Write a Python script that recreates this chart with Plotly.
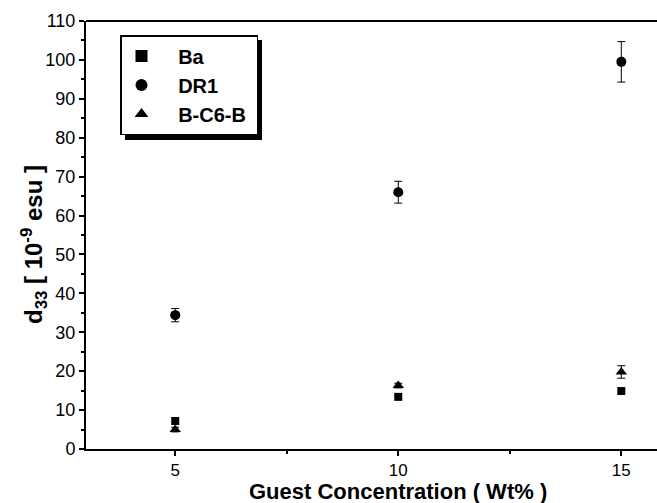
import plotly.graph_objects as go

conc = [5, 10, 15]
ba = [7.2, 13.4, 14.9]
ba_err = [0.6, 0.6, 0.6]
dr1 = [34.4, 66.0, 99.5]
dr1_err = [1.7, 2.8, 5.2]
bc6b = [5.0, 16.3, 19.8]
bc6b_err = [0.6, 0.6, 1.6]
names = ["Ba", "DR1", "B-C6-B"]

W, H = 657, 503
L, R, T, B = 86, 0, 21, 54
pw, ph = W - L - R, H - T - B

def px(x):
    return (x - L) / pw

def py(y):
    return (H - B - y) / ph

pad = "\u00a0\u00a0\u00a0"
fig = go.Figure()
fig.add_trace(go.Scatter(x=conc, y=ba, mode="markers", name=pad + names[0] + "\u00a0",
                         marker=dict(symbol="square", size=8, color="black"),
                         error_y=dict(type="data", array=ba_err, color="black", thickness=1, width=3)))
fig.add_trace(go.Scatter(x=conc, y=dr1, mode="markers", name=pad + names[1] + "\u00a0",
                         marker=dict(symbol="circle", size=10, color="black"),
                         error_y=dict(type="data", array=dr1_err, color="black", thickness=1, width=4)))
fig.add_trace(go.Scatter(x=conc, y=bc6b, mode="markers", name=pad + names[2] + "\u00a0",
                         marker=dict(symbol="triangle-up", size=10, color="black"),
                         error_y=dict(type="data", array=bc6b_err, color="black", thickness=1, width=4)))

font = "Liberation Sans, Arial, sans-serif"
fig.update_layout(
    width=W, height=H,
    margin=dict(l=L, r=R, t=T, b=B),
    paper_bgcolor="white", plot_bgcolor="white",
    font=dict(family=font, color="black", size=18),
    showlegend=True,
    legend=dict(x=px(120), y=py(35), xanchor="left", yanchor="top",
                bgcolor="white", bordercolor="black", borderwidth=1.5,
                font=dict(size=20, family=font, weight="bold"),
                itemsizing="constant", tracegroupgap=0),
    xaxis=dict(range=[3, 15.8], tickvals=[5, 10, 15], showgrid=False, zeroline=False,
               showline=True, linecolor="black", linewidth=2,
               ticks="outside", ticklen=5, tickwidth=1.5, tickcolor="black",
               minor=dict(tickvals=[7.5, 12.5], ticks="outside", ticklen=3, tickcolor="black"),
               tickfont=dict(size=17)),
    yaxis=dict(range=[0, 110], dtick=10, showgrid=False, zeroline=False,
               showline=True, linecolor="black", linewidth=2,
               ticks="outside", ticklen=5, tickwidth=1.5, tickcolor="black",
               minor=dict(dtick=5, ticks="outside", ticklen=3, tickcolor="black"),
               tickfont=dict(size=18)),
    annotations=[
        dict(text="<b>Guest Concentration ( Wt% )</b>", xref="paper", yref="paper",
             x=px(398), y=py(491), xanchor="center", yanchor="middle", showarrow=False,
             font=dict(size=22)),
        dict(text="<b>d<sub>33</sub> [ 10<sup>-9</sup> esu ]</b>", xref="paper", yref="paper",
             x=px(34), y=py(245), xanchor="center", yanchor="middle", showarrow=False,
             textangle=-90, font=dict(size=24)),
    ],
    shapes=[
        dict(type="line", xref="paper", yref="paper", x0=0, x1=1, y0=1, y1=1,
             line=dict(color="black", width=2)),
        dict(type="rect", xref="paper", yref="paper", x0=px(125), x1=px(262), y0=py(140), y1=py(40),
             fillcolor="black", line=dict(width=0), layer="above"),
    ],
)
fig.write_html("out.html", config={"displayModeBar": False},
               post_script="document.body.style.margin='0';")
